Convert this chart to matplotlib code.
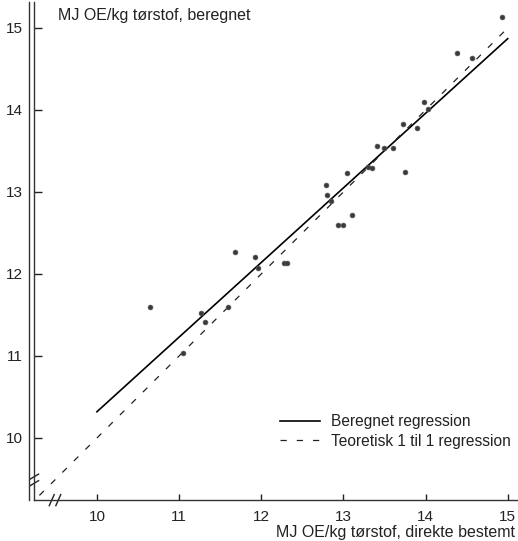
import numpy as np
import matplotlib
matplotlib.use("Agg")
import matplotlib.pyplot as plt
from matplotlib.lines import Line2D

plt.rcParams['font.family'] = ['Liberation Sans', 'DejaVu Sans']

# measured (direkte bestemt) vs calculated (beregnet), MJ OE/kg
x_meas = [10.65, 11.05, 11.27, 11.31, 11.59, 11.68, 11.92, 11.96, 12.28, 12.31,
          12.79, 12.80, 12.85, 12.93, 13.00, 13.04, 13.11, 13.30, 13.35, 13.41,
          13.50, 13.60, 13.72, 13.75, 13.89, 13.98, 14.03, 14.38, 14.56, 14.93]
y_calc = [11.60, 11.04, 11.52, 11.42, 11.60, 12.27, 12.21, 12.07, 12.13, 12.13,
          13.08, 12.96, 12.89, 12.60, 12.60, 13.23, 12.72, 13.30, 13.29, 13.56,
          13.54, 13.54, 13.83, 13.24, 13.78, 14.10, 14.01, 14.70, 14.63, 15.13]

# regression y = a + b*x, and the 1:1 line
reg_a, reg_b = 1.22, 0.91
reg_x = [10.0, 15.0]
one_x = [9.30, 14.97]

ticks = [10, 11, 12, 13, 14, 15]
ylab = "MJ OE/kg tørstof, beregnet"
xlab = "MJ OE/kg tørstof, direkte bestemt"
leg_labels = ["Beregnet regression", "Teoretisk 1 til 1 regression"]

fig = plt.figure(figsize=(5.18, 5.41), dpi=100)
ax = fig.add_axes([0.0656, 0.0758, 0.932, 0.9205])
ax.set_xlim(9.234, 15.11)
ax.set_ylim(9.244, 15.317)

ax.scatter(x_meas, y_calc, s=12, color='#3a3a3a', edgecolors='#555555',
           linewidths=0.5, zorder=3)
rx = np.array(reg_x)
l1, = ax.plot(rx, reg_a + reg_b * rx, color='black', lw=1.2)
ox = np.array(one_x)
l2, = ax.plot(ox, ox, color='#222222', lw=0.9, dashes=(5, 8))

for s in ['top', 'right']:
    ax.spines[s].set_visible(False)
for s in ['left', 'bottom']:
    ax.spines[s].set_linewidth(1.0)
    ax.spines[s].set_color('#333333')

# second line of the double left axis
x0 = 0.0656 - 4.5 / 518
fig.add_artist(Line2D([x0, x0], [0.0758, 0.0758 + 0.9205], color='#333333',
                      lw=1.0, transform=fig.transFigure))

ax.set_xticks(ticks)
ax.set_yticks(ticks)
ax.tick_params(axis='x', direction='in', length=4, width=1, labelsize=11,
               pad=7, colors='#222222')
ax.tick_params(axis='y', direction='in', length=6, width=1, labelsize=11,
               pad=8, colors='#222222')

# axis break marks
for dx in [0.0, 0.08]:
    ax.plot([9.42 + dx, 9.48 + dx], [9.175, 9.31], color='#222222', lw=1.0,
            clip_on=False)
for dy in [0.0, 0.08]:
    ax.plot([9.19, 9.29], [9.42 + dy, 9.48 + dy], color='#222222', lw=1.0,
            clip_on=False)

fig.text(0.112, 0.972, ylab, fontsize=11.5, color='#222222', va='center')
fig.text(0.994, 0.015, xlab, fontsize=11.5, color='#222222', ha='right',
         va='center')

leg = ax.legend([l1, l2], leg_labels, loc='lower right',
                bbox_to_anchor=(1.017, 0.075), frameon=False, fontsize=11.2,
                handlelength=2.6, handletextpad=0.7, labelspacing=0.3)
for t in leg.get_texts():
    t.set_color('#222222')

fig.savefig('out.png', dpi=100)
